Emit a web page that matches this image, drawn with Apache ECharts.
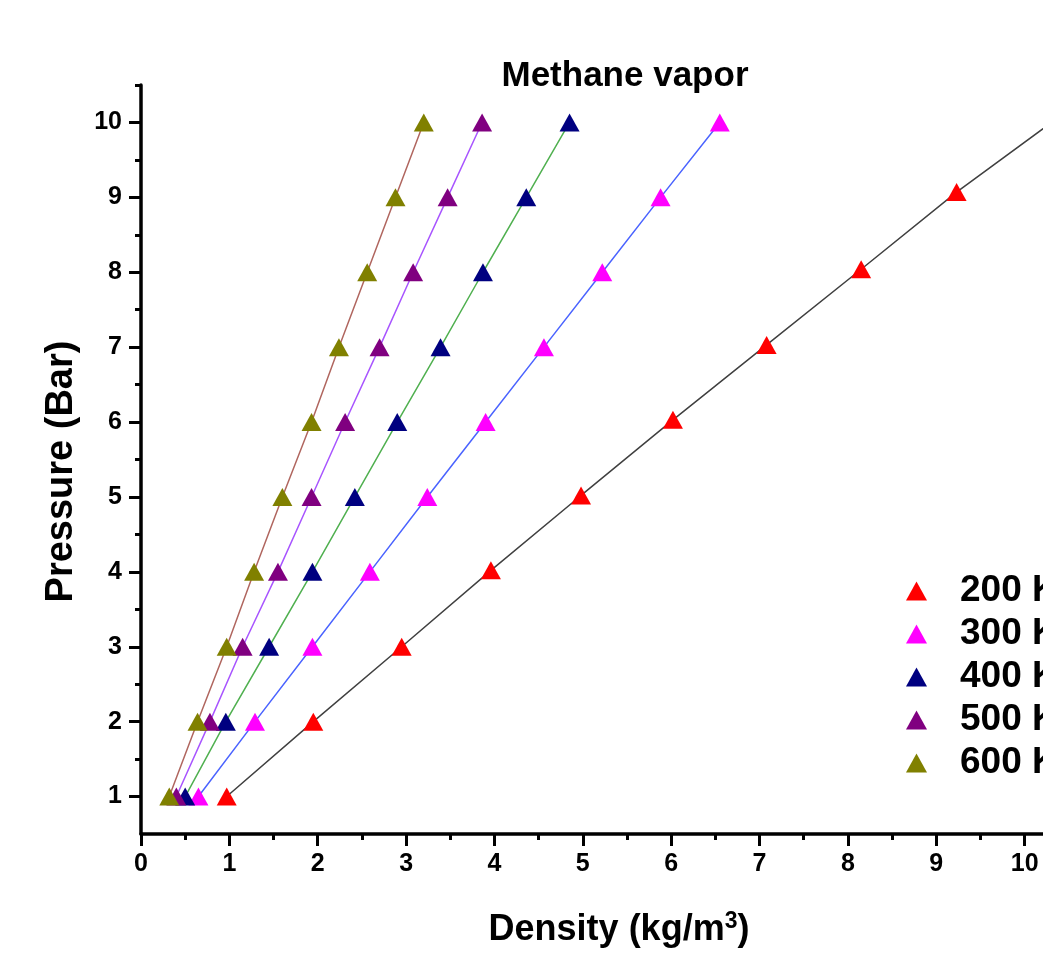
<!DOCTYPE html>
<html>
<head>
<meta charset="utf-8">
<script src="https://cdn.jsdelivr.net/npm/echarts@6/dist/echarts.min.js"></script>
<style>
  html, body { margin: 0; padding: 0; background: #fff; }
  #chart { width: 1043px; height: 955px; }
</style>
</head>
<body>
<div id="chart"></div>
<script>
// pressure in bar (y), density in kg/m3 (x)
var pressure = [1, 2, 3, 4, 5, 6, 7, 8, 9, 10];
var pressure200 = [1, 2, 3, 4.02, 5.02, 6.03, 7.03, 8.04, 9.07, 10.1];
var dens200 = [0.97, 1.95, 2.95, 3.96, 4.98, 6.02, 7.08, 8.15, 9.23, 10.42];
var dens300 = [0.65, 1.29, 1.94, 2.59, 3.24, 3.90, 4.56, 5.22, 5.88, 6.55];
var dens400 = [0.50, 0.96, 1.45, 1.94, 2.42, 2.90, 3.39, 3.87, 4.36, 4.85];
var dens500 = [0.40, 0.78, 1.15, 1.55, 1.93, 2.31, 2.70, 3.08, 3.47, 3.86];
var dens600 = [0.32, 0.64, 0.97, 1.28, 1.60, 1.93, 2.24, 2.56, 2.88, 3.20];

var seriesNames = ['200 K', '300 K', '400 K', '500 K', '600 K'];
var markerColors = ['#ff0000', '#ff00ff', '#000080', '#800080', '#808000'];
var lineColors = ['#404040', '#4a63ff', '#50b050', '#a855ff', '#b0665f'];

var yTicks = [1, 2, 3, 4, 5, 6, 7, 8, 9, 10];
var yMinorTicks = [1.5, 2.5, 3.5, 4.5, 5.5, 6.5, 7.5, 8.5, 9.5, 10.5];

var font = 'Liberation Sans, Arial, sans-serif';

function pairs(xs, ys) {
    return xs.map(function (x, i) { return [x, ys[i]]; });
}

var allData = [
    pairs(dens200, pressure200),
    pairs(dens300, pressure),
    pairs(dens400, pressure),
    pairs(dens500, pressure),
    pairs(dens600, pressure)
];

var series = [];
allData.forEach(function (d, i) {
    // fit line under the markers
    series.push({
        name: 'line ' + seriesNames[i],
        type: 'line',
        data: d,
        showSymbol: false,
        silent: true,
        z: 1,
        lineStyle: { color: lineColors[i], width: 1.5 }
    });
});
allData.forEach(function (d, i) {
    series.push({
        name: seriesNames[i],
        type: 'scatter',
        data: d,
        symbol: 'triangle',
        symbolSize: [20, 18],
        z: 3,
        itemStyle: { color: markerColors[i], opacity: 1 }
    });
});

var chart = echarts.init(document.getElementById('chart'));
chart.setOption({
    backgroundColor: '#ffffff',
    animation: false,
    title: {
        text: 'Methane vapor',
        left: 620,
        top: 54,
        textAlign: 'center',
        textStyle: {
            fontFamily: font,
            fontWeight: 'bold',
            fontSize: 35,
            color: '#000'
        }
    },
    legend: {
        data: seriesNames,
        orient: 'vertical',
        left: 901,
        top: 566,
        icon: 'triangle',
        itemWidth: 21,
        itemHeight: 19,
        itemGap: 3,
        textStyle: {
            fontFamily: font,
            fontWeight: 'bold',
            fontSize: 37,
            lineHeight: 40,
            color: '#000',
            padding: [0, 0, 0, 28]
        }
    },
    grid: {
        left: 141,
        top: 85,
        width: 972,
        height: 749,
        containLabel: false,
        outerBoundsMode: 'none'
    },
    xAxis: {
        type: 'value',
        min: 0,
        max: 11,
        interval: 1,
        name: '{a|Density (kg/m}{s|3}{a|)}',
        nameLocation: 'middle',
        nameGap: 76,
        nameTextStyle: {
            padding: [0, 16, 0, 0],
            rich: {
                a: { fontFamily: font, fontWeight: 'bold', fontSize: 36, color: '#000', lineHeight: 40 },
                s: { fontFamily: font, fontWeight: 'bold', fontSize: 23, color: '#000', verticalAlign: 'top', lineHeight: 40, padding: [0, 0, 16, 0] }
            }
        },
        splitLine: { show: false },
        axisLine: { show: true, onZero: false, lineStyle: { color: '#000', width: 3.5 } },
        axisTick: { show: true, inside: false, length: 12, lineStyle: { color: '#000', width: 3 } },
        minorTick: { show: true, splitNumber: 2, length: 6, lineStyle: { color: '#000', width: 3 } },
        axisLabel: {
            margin: 18,
            fontFamily: font,
            fontWeight: 'bold',
            fontSize: 25,
            color: '#000'
        }
    },
    yAxis: [
        {
            type: 'value',
            min: 0.5,
            max: 10.5,
            name: 'Pressure (Bar)',
            nameLocation: 'middle',
            nameGap: 60,
            nameRotate: 90,
            nameTextStyle: {
                fontFamily: font,
                fontWeight: 'bold',
                fontSize: 38,
                color: '#000',
                padding: [0, 24, 0, 0]
            },
            splitLine: { show: false },
            axisLine: { show: true, onZero: false, lineStyle: { color: '#000', width: 3.5 } },
            axisTick: { show: true, length: 12, customValues: yTicks, lineStyle: { color: '#000', width: 3 } },
            axisLabel: {
                customValues: yTicks,
                margin: 19,
                fontFamily: font,
                fontWeight: 'bold',
                fontSize: 25,
                color: '#000'
            }
        },
        {
            // minor ticks only
            type: 'value',
            min: 0.5,
            max: 10.5,
            position: 'left',
            splitLine: { show: false },
            axisLine: { show: false },
            axisTick: { show: true, length: 6, customValues: yMinorTicks, lineStyle: { color: '#000', width: 3 } },
            axisLabel: { show: false }
        }
    ],
    series: series
});
</script>
</body>
</html>
